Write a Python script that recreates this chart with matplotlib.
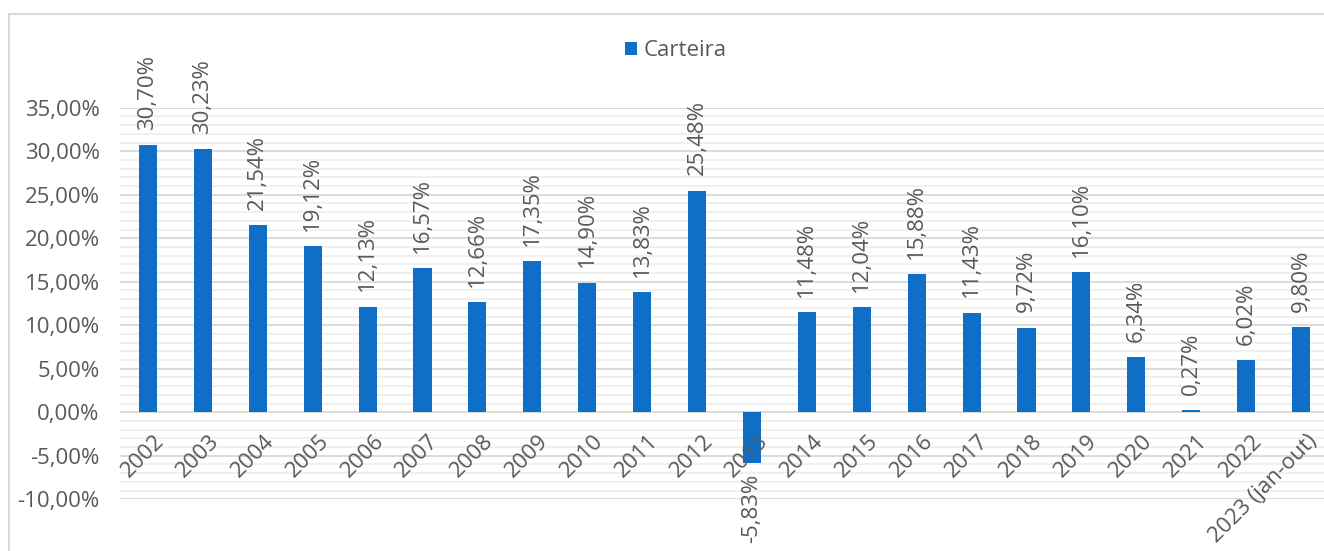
import matplotlib
matplotlib.use("Agg")
import matplotlib.pyplot as plt
from matplotlib.lines import Line2D
from matplotlib.ticker import MultipleLocator, FuncFormatter

plt.rcParams['font.family'] = ['Open Sans', 'DejaVu Sans']

# retorno anual da carteira (%)
anos = ['2002', '2003', '2004', '2005', '2006', '2007', '2008', '2009', '2010',
        '2011', '2012', '2013', '2014', '2015', '2016', '2017', '2018', '2019',
        '2020', '2021', '2022', '2023 (jan-out)']
retornos = [30.70, 30.23, 21.54, 19.12, 12.13, 16.57, 12.66, 17.35, 14.90,
            13.83, 25.48, -5.83, 11.48, 12.04, 15.88, 11.43, 9.72, 16.10,
            6.34, 0.27, 6.02, 9.80]

azul = '#0F6FC6'
cinza_txt = '#595959'
fs = 16

def pct(v):
    return f'{v:.2f}%'.replace('.', ',')

fig = plt.figure(figsize=(13.24, 5.51), dpi=100)
ax = fig.add_axes([0.091, 0.094, 0.9124, 0.7105])

x = list(range(len(anos)))
bars = ax.bar(x, retornos, width=0.33, color=azul, zorder=3, label='Carteira')

ax.set_xlim(-0.5, len(anos) - 0.5)
ax.set_ylim(-10, 35)
ax.yaxis.set_major_locator(MultipleLocator(5))
ax.yaxis.set_minor_locator(MultipleLocator(1))
ax.yaxis.set_major_formatter(FuncFormatter(lambda v, p: pct(v)))
ax.grid(axis='y', which='major', color='#D9D9D9', linewidth=1.3, zorder=0)
ax.grid(axis='y', which='minor', color='#EFEFEF', linewidth=1.3, zorder=0)
ax.tick_params(axis='y', which='both', length=0, pad=15, labelsize=fs, labelcolor=cinza_txt)
ax.set_xticks([])
for s in ax.spines.values():
    s.set_visible(False)

# rótulos de categoria junto à linha do zero
for i, ano in enumerate(anos):
    ax.annotate(ano, (i, 0), xytext=(4, -13), textcoords='offset points',
                rotation=45, ha='right', va='top', rotation_mode='anchor',
                fontsize=fs, color=cinza_txt, zorder=4)

# rótulos de valor
for i, v in enumerate(retornos):
    if v >= 0:
        ax.annotate(pct(v), (i, v), xytext=(0, 11), textcoords='offset points',
                    rotation=90, ha='center', va='bottom', fontsize=fs,
                    color=cinza_txt, zorder=4)
    else:
        ax.annotate(pct(v), (i, v), xytext=(0, -8), textcoords='offset points',
                    rotation=90, ha='center', va='top', fontsize=fs,
                    color=cinza_txt, zorder=4)

fig.legend(handles=[bars], labels=['Carteira'], loc='center',
           bbox_to_anchor=(676 / 1324, 1 - 51 / 551), frameon=False,
           fontsize=fs, labelcolor=cinza_txt, handlelength=0.55,
           handleheight=0.55, handletextpad=0.3)

# borda da área do gráfico
fig.add_artist(Line2D([9 / 1324, 9 / 1324], [0, 1 - 14 / 551], color='#D9D9D9', linewidth=1.5))
fig.add_artist(Line2D([9 / 1324, 1], [1 - 14 / 551, 1 - 14 / 551], color='#D9D9D9', linewidth=1.5))

fig.savefig('out.png', dpi=100)
